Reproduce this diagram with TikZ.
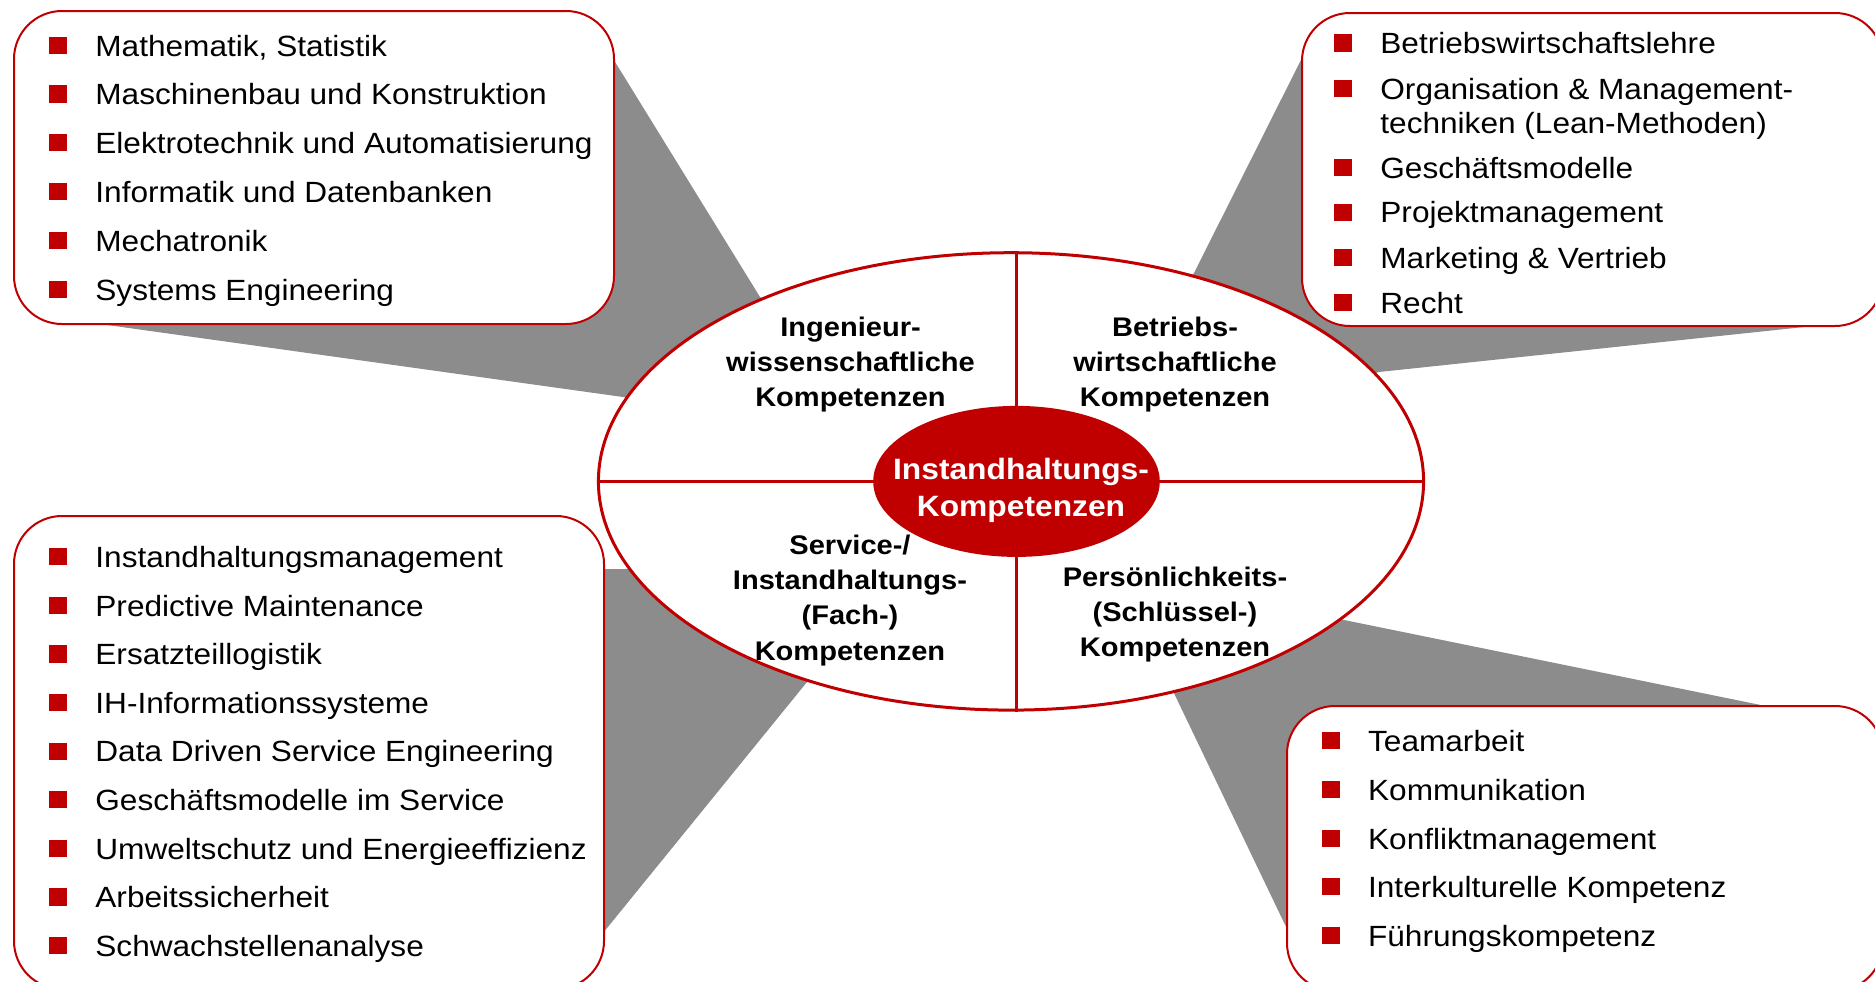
\documentclass[tikz,border=0pt]{standalone}
\usepackage{fontspec}
\setmainfont{Liberation Sans}[FakeStretch=1.08]
\usetikzlibrary{shapes.geometric}
\definecolor{bred}{HTML}{C00000}
\definecolor{wgray}{HTML}{8C8C8C}
\newcommand\itembul{\makebox[23pt][l]{\textcolor{bred}{\rule[1.1pt]{9pt}{8.6pt}}}}
\tikzset{
  wedge/.style={fill=wgray},
  listbox/.style={draw=bred, line width=1pt, fill=white, rounded corners=24pt, inner sep=0pt, anchor=north west},
  bigell/.style={ellipse, draw=bred, line width=1.5pt, fill=white, minimum width=412.6pt, minimum height=228.7pt, inner sep=0pt},
  smallell/.style={ellipse, fill=bred, minimum width=143.3pt, minimum height=75.5pt, inner sep=0pt},
  div/.style={draw=bred, line width=1.1pt},
  listitem/.style={anchor=base west, inner sep=0pt, font=\fontsize{14.63}{16.5}\selectfont},
  qlab/.style={align=center, inner sep=0pt, font=\bfseries\fontsize{13.45}{17.7}\selectfont},
  ctext/.style={align=center, inner sep=0pt, text=white, font=\bfseries\fontsize{14.7}{18.35}\selectfont}
}
\begin{document}
\begin{tikzpicture}[x=0.5pt,y=-0.5pt]
\useasboundingbox (0,0) rectangle (1875,981);
\clip (0,0) rectangle (1875,981);

% grey wedges
\fill[wedge] (590,21.3) -- (760,297) -- (1011,481) -- (623,397) -- (50,317) -- cycle;
\fill[wedge] (1316,30) -- (1194,273) -- (1011,481) -- (1379,372) -- (1840,323.2) -- cycle;
\fill[wedge] (560,569) -- (660,569) -- (833,650) -- (570,973.6) -- cycle;
\fill[wedge] (1300,611) -- (1800,713) -- (1300,956) -- (1160,664) -- cycle;

% list boxes
\node[listbox, minimum width=300pt, minimum height=156.5pt] (tl) at (13,10) {};
\node[listbox, minimum width=290.5pt, minimum height=156.5pt] (tr) at (1301,12) {};
\node[listbox, minimum width=295pt, minimum height=236.5pt] (bl) at (13,515) {};
\node[listbox, minimum width=298pt, minimum height=142.5pt] (br) at (1286,705) {};

% central ellipse
\node[bigell] (E) at (1011,481.4) {};
\coordinate (cx) at (1016.5,481.4);
\draw[div] (cx |- E.north) -- (cx |- E.south);
\draw[div] (E.west) -- (E.east);
\node[smallell] (C) at (cx) {};
\node[ctext] (ct) at (1021,490.2) {Instandhaltungs-\\Kompetenzen};

% quadrant labels
\node[qlab] (q1) at (850.5,364.6) {Ingenieur-\\wissenschaftliche\\Kompetenzen};
\node[qlab] (q2) at (1175,364.6) {Betriebs-\\wirtschaftliche\\Kompetenzen};
\node[qlab] (q3) at (850,600.3) {Service-/\\Instandhaltungs-\\(Fach-)\\Kompetenzen};
\node[qlab] (q4) at (1175,614.6) {Persönlichkeits-\\(Schlüssel-)\\Kompetenzen};

% top left list
\node[listitem] (tl1) at (49,56) {\itembul Mathematik, Statistik};
\node[listitem] (tl2) at (49,104.8) {\itembul Maschinenbau und Konstruktion};
\node[listitem] (tl3) at (49,153.6) {\itembul Elektrotechnik und Automatisierung};
\node[listitem] (tl4) at (49,202.4) {\itembul Informatik und Datenbanken};
\node[listitem] (tl5) at (49,251.2) {\itembul Mechatronik};
\node[listitem] (tl6) at (49,300) {\itembul Systems Engineering};

% top right list
\node[listitem] (tr1) at (1334,53.8) {\itembul Betriebswirtschaftslehre};
\node[listitem] (tr2) at (1334,99.3) {\itembul Organisation \& Management-};
\node[listitem] (tr2b) at (1380,133) {techniken (Lean-Methoden)};
\node[listitem] (tr3) at (1334,178.3) {\itembul Geschäftsmodelle};
\node[listitem] (tr4) at (1334,222.9) {\itembul Projektmanagement};
\node[listitem] (tr5) at (1334,268.2) {\itembul Marketing \& Vertrieb};
\node[listitem] (tr6) at (1334,313.3) {\itembul Recht};

% bottom left list
\node[listitem] (bl1) at (49,567.5) {\itembul Instandhaltungsmanagement};
\node[listitem] (bl2) at (49,616.1) {\itembul Predictive Maintenance};
\node[listitem] (bl3) at (49,664.7) {\itembul Ersatzteillogistik};
\node[listitem] (bl4) at (49,713.3) {\itembul IH-Informationssysteme};
\node[listitem] (bl5) at (49,761.9) {\itembul Data Driven Service Engineering};
\node[listitem] (bl6) at (49,810.5) {\itembul Geschäftsmodelle im Service};
\node[listitem] (bl7) at (49,859.1) {\itembul Umweltschutz und Energieeffizienz};
\node[listitem] (bl8) at (49,907.7) {\itembul Arbeitssicherheit};
\node[listitem] (bl9) at (49,956.3) {\itembul Schwachstellenanalyse};

% bottom right list
\node[listitem] (br1) at (1321.7,751) {\itembul Teamarbeit};
\node[listitem] (br2) at (1321.7,800) {\itembul Kommunikation};
\node[listitem] (br3) at (1321.7,849) {\itembul Konfliktmanagement};
\node[listitem] (br4) at (1321.7,897.5) {\itembul Interkulturelle Kompetenz};
\node[listitem] (br5) at (1321.7,946) {\itembul Führungskompetenz};
\end{tikzpicture}
\end{document}
